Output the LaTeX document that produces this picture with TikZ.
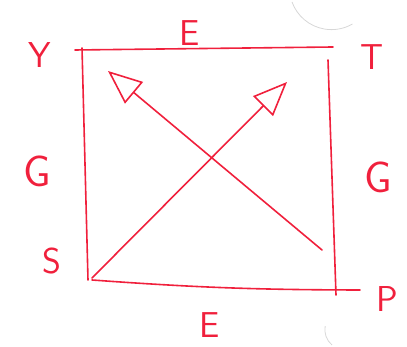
\documentclass[tikz,border=0pt]{standalone}
\usetikzlibrary{arrows.meta}
\definecolor{pen}{RGB}{240,32,60}
\definecolor{faint}{RGB}{215,215,215}
\begin{document}
\begin{tikzpicture}[x=1pt,y=1pt,
  pen/.style={draw=pen, line width=1.6pt, line cap=round},
  lbl/.style={text=pen, font=\sffamily\fontsize{36}{36}\selectfont, inner sep=0pt},
  big/.style={font=\sffamily\fontsize{44}{44}\selectfont},
  tip/.style={-{Triangle[open, length=34pt, width=28pt, line width=1.6pt]}}]
\useasboundingbox (0,0) rectangle (407,347);
% corner coordinates
\coordinate (tl1) at (75,297);
\coordinate (tr1) at (333,300);
\coordinate (tl2) at (82,299);
\coordinate (bl2) at (88,67);
\coordinate (tr2) at (328,287);
\coordinate (br2) at (336,52);
\coordinate (bl1) at (92,67);
\coordinate (br1) at (360,57);
\coordinate (d1s) at (92,69);
\coordinate (d1e) at (287,265);
\coordinate (d2s) at (322,97);
\coordinate (d2e) at (108,276);
% sides
\draw[pen] (tl1) -- (tr1);
\draw[pen] (tl2) -- (bl2);
\draw[pen] (tr2) -- (br2);
\draw[pen] (bl1) to[bend right=2] (br1);
% diagonals
\draw[pen, tip] (d1s) -- (d1e);
\draw[pen, tip] (d2s) -- (d2e);
% labels
\node[lbl] (Y) at (40,292) {Y};
\node[lbl] (T) at (372,290) {T};
\node[lbl] (Et) at (190,314) {E};
\node[lbl, big] (Gl) at (37,176) {G};
\node[lbl, big] (Gr) at (378,170) {G};
\node[lbl] (S) at (52,86) {S};
\node[lbl] (P) at (387,48) {P};
\node[lbl] (Eb) at (210,22) {E};
% faint scan marks
\draw[faint, line width=0.8pt] (292,345) arc[start angle=200, end angle=300, radius=42];
\draw[faint, line width=0.8pt] (332,2) arc[start angle=230, end angle=170, radius=20];
\end{tikzpicture}
\end{document}
